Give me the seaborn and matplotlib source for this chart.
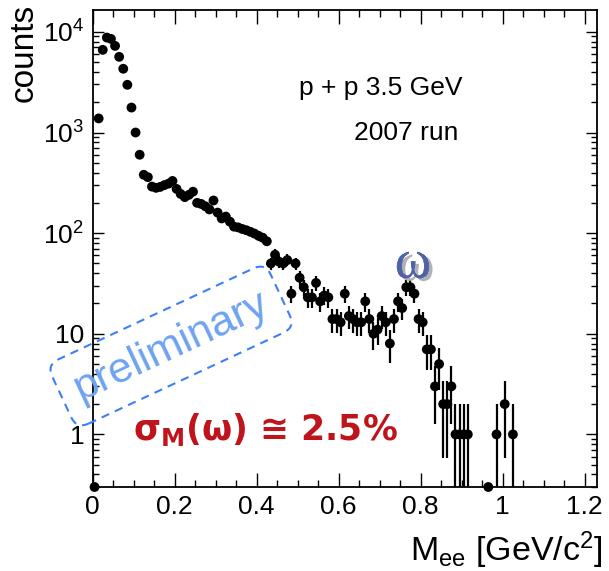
import numpy as np
import pandas as pd
import seaborn as sns
import matplotlib
matplotlib.use("Agg")
import matplotlib.pyplot as plt
from matplotlib.ticker import FixedLocator, FixedFormatter, LogLocator, NullFormatter, MultipleLocator, FuncFormatter
import matplotlib.patheffects as pe

# Dielectron invariant-mass spectrum, 10 MeV bins (bin centres in GeV/c^2)
mass = [0.015, 0.025, 0.035, 0.045, 0.055, 0.065, 0.075, 0.085, 0.095, 0.105,
        0.115, 0.125, 0.135, 0.145, 0.155, 0.165, 0.175, 0.185, 0.195, 0.205,
        0.215, 0.225, 0.235, 0.245, 0.255, 0.265, 0.275, 0.285, 0.295, 0.305,
        0.315, 0.325, 0.335, 0.345, 0.355, 0.365, 0.375, 0.385, 0.395, 0.405,
        0.415, 0.425, 0.435, 0.445, 0.455, 0.465, 0.475, 0.485, 0.495, 0.505,
        0.515, 0.525, 0.535, 0.545, 0.555, 0.565, 0.575, 0.585, 0.595, 0.605,
        0.615, 0.625, 0.635, 0.645, 0.655, 0.665, 0.675, 0.685, 0.695, 0.705,
        0.715, 0.725, 0.735, 0.745, 0.755, 0.765, 0.775, 0.785, 0.795, 0.805,
        0.815, 0.825, 0.835, 0.845, 0.855, 0.865, 0.875, 0.885, 0.895, 0.905,
        0.915, 0.985, 1.005, 1.025]
counts = [1380, 6630, 8780, 8520, 7260, 5650, 4300, 2980, 1770, 1000,
          601, 380, 360, 290, 282, 288, 300, 310, 330, 275,
          245, 228, 240, 258, 200, 195, 185, 172, 211, 160,
          140, 146, 130, 116, 114, 110, 107, 103, 99, 94,
          90, 83, 50, 61, 52, 50, 54, 25, 50, 36,
          29, 23, 23, 32, 21, 24, 23, 14, 14, 13,
          25, 15, 14, 13, 13, 21, 14, 10, 11, 15,
          13, 8, 14, 21, 18, 29, 29, 25, 14, 13,
          7, 7, 3, 5, 2, 2, 3, 1, 1, 1,
          1, 1, 2, 1]
# empty bins, drawn on the lower frame edge
empty_mass = [0.005, 0.965]

x_ticks = [0, 0.2, 0.4, 0.6, 0.8, 1.0, 1.2]
y_ticks = [1, 10, 100, 1000, 10000]
y_tick_labels = ["1", "10", r"$\mathregular{10^{2}}$", r"$\mathregular{10^{3}}$", r"$\mathregular{10^{4}}$"]

YMIN, YMAX = 0.3, 16500
XMIN, XMAX = 0.0, 1.23

sns.set_theme(style="ticks")
plt.rcParams["font.family"] = ["Liberation Sans", "DejaVu Sans"]
plt.rcParams["mathtext.fontset"] = "custom"
plt.rcParams["mathtext.rm"] = "DejaVu Sans:bold"
plt.rcParams["mathtext.it"] = "DejaVu Sans:bold"
plt.rcParams["mathtext.bf"] = "DejaVu Sans:bold"

W, H = 609, 571
fig = plt.figure(figsize=(W / 100, H / 100), dpi=100)
left, right, top, bottom = 92.5, 597, 10, 487
ax = fig.add_axes([left / W, (H - bottom) / H, (right - left) / W, (bottom - top) / H])

df = pd.DataFrame({"mass": mass, "counts": counts})
df["err"] = np.sqrt(df["counts"])
lo = df["counts"] - np.maximum(df["counts"] - df["err"], 1e-3)

ax.errorbar(df["mass"], df["counts"], yerr=[lo, df["err"]], fmt="none",
            ecolor="black", elinewidth=1.6, capsize=0, zorder=2)
sns.scatterplot(data=df, x="mass", y="counts", ax=ax, color="black", s=50,
                edgecolor="none", linewidth=0, zorder=3, legend=False)
sns.scatterplot(x=empty_mass, y=[YMIN] * len(empty_mass), ax=ax, color="black",
                s=50, edgecolor="none", linewidth=0, zorder=3, clip_on=False, legend=False)

ax.set_yscale("log")
ax.set_xlim(XMIN, XMAX)
ax.set_ylim(YMIN, YMAX)

ax.yaxis.set_major_locator(FixedLocator(y_ticks))
ax.yaxis.set_major_formatter(FixedFormatter(y_tick_labels))
ax.yaxis.set_minor_locator(LogLocator(base=10, subs=np.arange(2, 10)))
ax.yaxis.set_minor_formatter(NullFormatter())
ax.xaxis.set_major_locator(FixedLocator(x_ticks))
ax.xaxis.set_major_formatter(FuncFormatter(lambda v, p: f"{v:g}"))
ax.xaxis.set_minor_locator(MultipleLocator(0.05))

ax.tick_params(axis="both", which="both", direction="in", top=True, right=True,
               colors="black", labelsize=19, width=1.0)
ax.tick_params(axis="x", which="major", length=10, pad=6)
ax.tick_params(axis="x", which="minor", length=5)
ax.tick_params(axis="y", which="major", length=8, pad=6)
ax.tick_params(axis="y", which="minor", length=4)
for s in ax.spines.values():
    s.set_linewidth(1.3)
    s.set_color("black")
ax.set_xlabel("")
ax.set_ylabel("")

# axis titles
fig.text(603 / W, 1 - 561 / H, r"M$\mathregular{_{ee}}$ [GeV/c$\mathregular{^{2}}$]",
         ha="right", va="baseline", fontsize=24.5, color="black")
fig.text(24 / W, 1 - 4 / H, "counts", rotation=90, ha="center", va="top", fontsize=24, color="black")

# run information
ax.text((381 - left) / (right - left), (bottom - 88) / (bottom - top), "p + p 3.5 GeV",
        transform=ax.transAxes, ha="center", va="center", fontsize=19, color="black")
ax.text((406 - left) / (right - left), (bottom - 133) / (bottom - top), "2007 run",
        transform=ax.transAxes, ha="center", va="center", fontsize=19, color="black")

# omega peak marker
ax.text(0.635, 0.468, "ω", transform=ax.transAxes, ha="center", va="center",
        fontsize=40, family="Liberation Serif", color="#5063a6",
        path_effects=[pe.withSimplePatchShadow(offset=(2.5, -2), shadow_rgbFace="#a8a8b0", alpha=0.9),
                      pe.Normal()])

# preliminary stamp
ax.text((171 - left) / (right - left), (bottom - 346) / (bottom - top), "preliminary",
        transform=ax.transAxes, ha="center", va="center",
        rotation=25, rotation_mode="anchor", fontsize=31, color="#6ea3f2", clip_on=False,
        bbox=dict(boxstyle="round,pad=0.36,rounding_size=0.3", fc="none", ec="#3f7ff5",
                  ls=(0, (4, 3)), lw=1.5))

# mass resolution
ax.text((133 - left) / (right - left), (bottom - 440) / (bottom - top), r"$\sigma_{M}(\omega)$ ≅ 2.5%",
        transform=ax.transAxes, ha="left", va="baseline", fontsize=25, fontweight="bold",
        family="DejaVu Sans", color="#c0141c")

fig.savefig("out.png", dpi=100)
